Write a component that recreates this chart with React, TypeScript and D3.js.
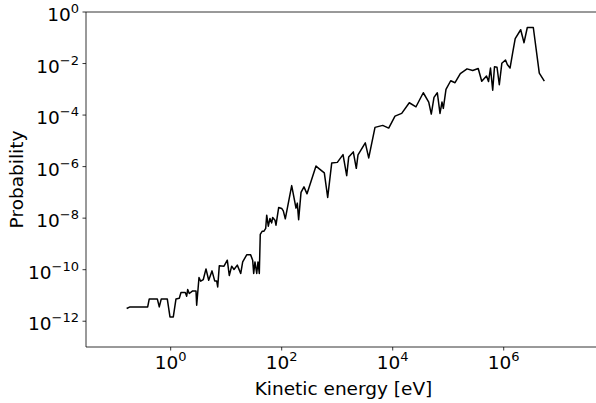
import React from "react";
import * as d3 from "d3";

const energy = [
  0.161, 0.185, 0.385, 0.411, 0.574, 0.623, 0.677, 0.868, 0.971, 1.114,
  1.246, 1.429, 1.533, 1.833, 1.942, 2.024, 2.163, 2.491, 2.857, 2.94,
  3.236, 3.473, 3.866, 4.325, 4.84, 5.55, 6.21, 6.74, 7.03, 7.51,
  9.13, 10.47, 11.37, 12.56, 13.83, 15.85, 18.25, 19.83, 23.4, 27.6,
  30.0, 31.3, 33.0, 35.5, 37.4, 39.5, 41.1, 44.7, 48.0, 51.5,
  53.7, 57.4, 61.5, 66.0, 68.8, 75.7, 78.9, 88.3, 100, 106.9,
  116.1, 151.4, 181, 191, 202, 223, 252, 286, 415, 476,
  586, 674, 796, 1005, 1273, 1483, 1611, 1950, 2208, 2371,
  3208, 3698, 4798, 6607, 8472, 11000, 14520, 19910, 26300, 35560,
  44570, 49550, 55460, 63680, 71120, 77270, 81660, 91200, 110900, 132700,
  165200, 218300, 276300, 347400, 401800, 489800, 532100, 578100, 633400, 682300,
  757300, 833300, 924700, 1077000, 1161000, 1300000, 1452000, 1611000, 2023000, 2323000,
  2661000, 3414000, 4376000, 5395000,
];

const probability = [
  3.11e-12, 3.59e-12, 3.59e-12, 7.35e-12, 7.35e-12, 3.59e-12, 7.35e-12, 7.35e-12, 1.47e-12, 1.47e-12,
  7.35e-12, 7.82e-12, 1.3e-11, 1.3e-11, 9.35e-12, 1.7e-11, 1.19e-11, 1.5e-11, 1.5e-11, 4.18e-12,
  4.98e-11, 3.57e-11, 4.16e-11, 1.07e-10, 3.91e-11, 8.98e-11, 3.67e-11, 3.67e-11, 2.15e-11, 1.41e-10,
  1.37e-10, 2.34e-10, 5.96e-11, 1.37e-10, 1.02e-10, 1.5e-10, 7.11e-11, 2.01e-10, 3.76e-10, 3.76e-10,
  2.34e-10, 7.11e-11, 2.01e-10, 7.11e-11, 2.01e-10, 7.11e-11, 2.33e-9, 3.13e-9, 3.13e-9, 3.98e-9,
  1.31e-8, 4.89e-9, 9.73e-9, 6.56e-9, 1.06e-8, 8.36e-9, 5.35e-9, 2.61e-8, 2.38e-8, 1.92e-8,
  9.4e-9, 1.83e-7, 2.45e-8, 3.83e-8, 8.75e-9, 9.96e-8, 1.64e-7, 8.79e-8, 1.05e-6, 8.22e-7,
  5.74e-7, 6.37e-8, 1.37e-6, 1.46e-6, 2.92e-6, 4.47e-7, 2.34e-6, 3.72e-6, 8.59e-7, 2.85e-6,
  8.4e-6, 2.18e-6, 3.33e-5, 3.98e-5, 3.13e-5, 9.14e-5, 1.16e-4, 3.01e-4, 2.1e-4, 7.35e-4,
  3.2e-4, 1.09e-4, 4.87e-4, 7.35e-4, 1.16e-4, 3.2e-4, 1.82e-4, 9.96e-4, 2.15e-3, 1.8e-3,
  4.09e-3, 6.22e-3, 5.35e-3, 6.4e-3, 2.05e-3, 3.27e-3, 2.0e-3, 6.68e-3, 9.18e-4, 7.51e-3,
  7.18e-3, 1.5e-3, 1.02e-2, 1.37e-2, 9.14e-3, 6.68e-3, 2.67e-2, 9.18e-2, 0.205, 6.43e-2,
  0.25, 0.25, 4.28e-3, 2.09e-3,
];

const xTickExps = [0, 2, 4, 6];
const yTickExps = [0, -2, -4, -6, -8, -10, -12];
const xDomain = [0.0298, 5.66e7];
const yDomain = [1e-13, 1];

const W = 596;
const H = 403;
const M = { left: 86, top: 12, right: 601, bottom: 347 };
const FONT = "DejaVu Sans, sans-serif";
const TICK_FS = 18.5;
const SUP_FS = 13;
const LABEL_FS = 18.5;

function Pow10({ exp, x, y, anchor }: { exp: number; x: number; y: number; anchor: "middle" | "end" }) {
  const supText = exp < 0 ? `\u2212${Math.abs(exp)}` : `${exp}`;
  return (
    <text x={x} y={y} textAnchor={anchor} fontFamily={FONT} fontSize={TICK_FS} fill="#000">
      10
      <tspan dy={-7.8} fontSize={SUP_FS}>{supText}</tspan>
    </text>
  );
}

export default function App() {
  const x = d3.scaleLog().domain(xDomain).range([M.left, M.right]);
  const y = d3.scaleLog().domain(yDomain).range([M.bottom, M.top]);
  const data = energy.map((e, i) => [e, probability[i]] as [number, number]);
  const line = d3
    .line<[number, number]>()
    .x((d) => x(d[0]))
    .y((d) => y(d[1]));

  return (
    <svg width={W} height={H} style={{ position: "absolute", left: 0, top: 0, background: "#fff" }}>
      <rect x={0} y={0} width={W} height={H} fill="#fff" />
      <path d={line(data) || ""} fill="none" stroke="#000" strokeWidth={1.5} strokeLinejoin="round" />
      <line x1={M.left} x2={M.right} y1={M.top} y2={M.top} stroke="#000" strokeWidth={0.8} />
      <line x1={M.left} x2={M.right} y1={M.bottom} y2={M.bottom} stroke="#000" strokeWidth={0.8} />
      <line x1={M.left} x2={M.left} y1={M.top} y2={M.bottom} stroke="#000" strokeWidth={0.8} />
      <line x1={M.right} x2={M.right} y1={M.top} y2={M.bottom} stroke="#000" strokeWidth={0.8} />
      {xTickExps.map((e) => {
        const px = x(Math.pow(10, e));
        return (
          <g key={`x${e}`}>
            <line x1={px} x2={px} y1={M.bottom} y2={M.bottom + 3.5} stroke="#000" strokeWidth={0.8} />
            <Pow10 exp={e} x={px} y={M.bottom + 21.5} anchor="middle" />
          </g>
        );
      })}
      {yTickExps.map((e) => {
        const py = y(Math.pow(10, e));
        return (
          <g key={`y${e}`}>
            <line x1={M.left - 3.5} x2={M.left} y1={py} y2={py} stroke="#000" strokeWidth={0.8} />
            <Pow10 exp={e} x={M.left - 7} y={py + 9} anchor="end" />
          </g>
        );
      })}
      <text
        x={(M.left + M.right) / 2}
        y={395}
        textAnchor="middle"
        fontFamily={FONT}
        fontSize={LABEL_FS}
        fill="#000"
      >
        Kinetic energy [eV]
      </text>
      <text
        transform={`translate(23,${(M.top + M.bottom) / 2}) rotate(-90)`}
        textAnchor="middle"
        fontFamily={FONT}
        fontSize={LABEL_FS}
        fill="#000"
      >
        Probability
      </text>
    </svg>
  );
}
